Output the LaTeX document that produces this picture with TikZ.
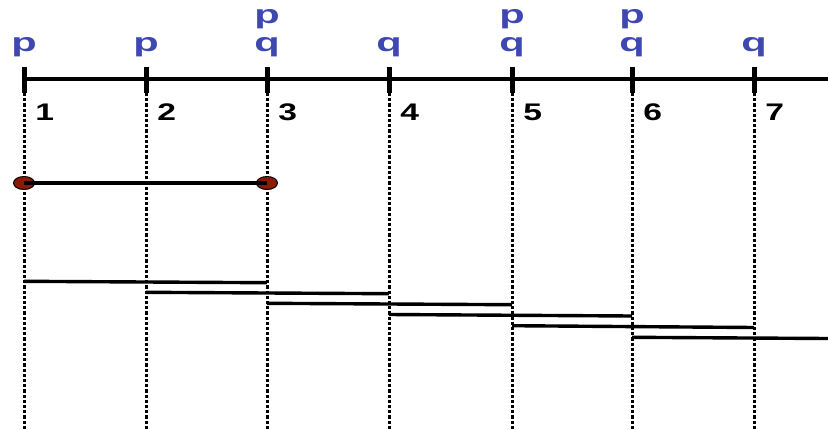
\documentclass[tikz,border=0pt]{standalone}
\usetikzlibrary{shapes.geometric}
\usepackage{fontspec}
\setmainfont{Liberation Sans}
\definecolor{lblue}{HTML}{3F48B0}
\definecolor{dotred}{HTML}{8B1A00}
\begin{document}
\begin{tikzpicture}[x=1pt,y=-1pt,
  axis/.style={line width=3.2pt},
  tickmark/.style={line width=5pt},
  guide/.style={line width=3pt, dash pattern=on 3.2pt off 2pt},
  seg/.style={line width=3.2pt},
  stair/.style={line width=3.4pt},
  letter/.style={text=lblue, font=\bfseries\fontsize{26}{26}\selectfont, inner sep=0pt, anchor=base, xscale=1.6},
  num/.style={font=\bfseries\fontsize{24}{24}\selectfont, inner sep=0pt, anchor=base west, xscale=1.4},
  enddot/.style={ellipse, draw=black, line width=1pt, fill=dotred, minimum width=21pt, minimum height=13pt, inner sep=0pt}]
\useasboundingbox (0,0) rectangle (828,429);
% positions
\foreach \i/\x in {1/24,2/146,3/267,4/389,5/512,6/632,7/754} {
  \coordinate (t\i) at (\x,79);
  \coordinate (top\i) at (\x,67);
  \coordinate (bot\i) at (\x,93);
  \coordinate (end\i) at (\x,429);
  \draw[guide] (bot\i) -- (end\i);
  \draw[tickmark] (top\i) -- (bot\i);
  \node[num] (n\i) at (\x+11,120) {\i};
}
\coordinate (axisend) at (828,79);
\draw[axis] (t1) -- (axisend);
% letters
\node[letter] (l1) at (24,51) {p};
\node[letter] (l2) at (146,51) {p};
\node[letter] (l3b) at (267,51) {q};
\node[letter] (l3a) at (267,23) {p};
\node[letter] (l4) at (389,51) {q};
\node[letter] (l5b) at (512,51) {q};
\node[letter] (l5a) at (512,23) {p};
\node[letter] (l6b) at (632,51) {q};
\node[letter] (l6a) at (632,23) {p};
\node[letter] (l7) at (754,51) {q};
% dotted interval
\node[enddot] (d1) at (24,183) {};
\node[enddot] (d2) at (267,183) {};
\draw[seg] (d1.center) -- (d2.center);
% staircase
\coordinate (s1a) at (24,281.3);  \coordinate (s1b) at (267,282.7);
\coordinate (s2a) at (146,292.3); \coordinate (s2b) at (389,293.7);
\coordinate (s3a) at (267,303.3); \coordinate (s3b) at (512,304.7);
\coordinate (s4a) at (389,314.5); \coordinate (s4b) at (632,316);
\coordinate (s5a) at (512,325.7); \coordinate (s5b) at (754,327.5);
\coordinate (s6a) at (632,337.3); \coordinate (s6b) at (828,338.5);
\foreach \k in {1,...,6} { \draw[stair] (s\k a) -- (s\k b); }
\end{tikzpicture}
\end{document}
